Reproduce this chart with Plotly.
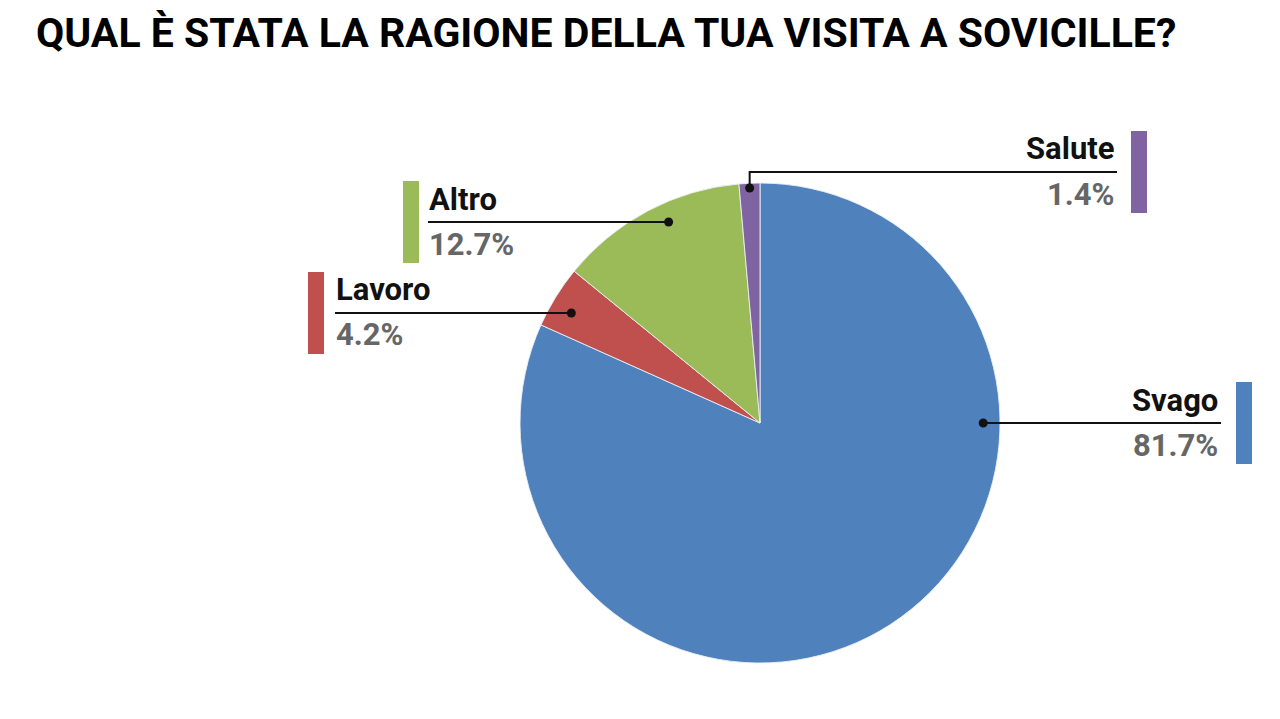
import math
import plotly.graph_objects as go

# ---- data ----
categories = ["Svago", "Lavoro", "Altro", "Salute"]
values = [81.7, 4.2, 12.7, 1.4]
colors = ["#4F81BD", "#C0504D", "#9BBB59", "#8064A2"]
title_text = "QUAL È STATA LA RAGIONE DELLA TUA VISITA A SOVICILLE?"

W, H = 1280, 719
OFF = 8  # page body margin
CX, CY, R = 760, 423, 240


def px(x):
    return (x - OFF) / W


def py(y):
    return 1 - (y - OFF) / H


fig = go.Figure()
fig.add_trace(go.Pie(
    labels=categories, values=values, sort=False, direction="clockwise", rotation=0,
    marker=dict(colors=colors, line=dict(color="rgba(235,240,245,0.9)", width=1)),
    textinfo="none", hoverinfo="label+percent", showlegend=False,
    domain=dict(x=[px(CX - R), px(CX + R)], y=[py(CY + R), py(CY - R)]),
))

# label layout: side, label line y, text end x, bar x0, dot radius fraction
layout_info = {
    "Svago": dict(side="right", ly=423, tx=1221, bx=1236, rf=0.93),
    "Lavoro": dict(side="left", ly=313, tx=335, bx=308, rf=0.91),
    "Altro": dict(side="left", ly=222, tx=428, bx=403, rf=0.92),
    "Salute": dict(side="right", ly=172, tx=1117, bx=1131, rf=0.98),
}

total = sum(values)
shapes = []
annotations = []
cum = 0.0
for cat, val, col in zip(categories, values, colors):
    info = layout_info[cat]
    start = cum / total * 2 * math.pi
    end = (cum + val) / total * 2 * math.pi
    cum += val
    mid = (start + end) / 2
    ly = info["ly"]
    rr = info["rf"] * R
    if val > 3:
        # dot where the horizontal label line crosses the slice
        dy = ly - CY
        dx = math.sqrt(rr ** 2 - dy ** 2) * (1 if math.sin(mid) > 0 else -1)
        dotx, doty = CX + dx, ly
    else:
        dotx = CX + rr * math.sin(mid)
        doty = CY - rr * math.cos(mid)
    if abs(doty - ly) < 1:
        pts = [(dotx, doty), (info["tx"], ly)]
    else:
        pts = [(dotx, doty), (dotx, ly), (info["tx"], ly)]
    path = "M " + " L ".join(f"{px(a)},{py(b)}" for a, b in pts)
    shapes.append(dict(type="path", path=path, xref="paper", yref="paper",
                       line=dict(color="#111111", width=2)))
    shapes.append(dict(type="circle", xref="paper", yref="paper",
                       xsizemode="pixel", ysizemode="pixel",
                       xanchor=px(dotx), yanchor=py(doty),
                       x0=-4.5, x1=4.5, y0=-4.5, y1=4.5,
                       fillcolor="#111111", line=dict(width=0)))
    shapes.append(dict(type="rect", xref="paper", yref="paper",
                       x0=px(info["bx"]), x1=px(info["bx"] + 16),
                       y0=py(ly + 41), y1=py(ly - 41),
                       fillcolor=col, line=dict(width=0)))
    anchor = "left" if info["side"] == "left" else "right"
    tx = info["tx"] - 1
    annotations.append(dict(text=f"<b>{cat}</b>", x=px(tx), y=py(ly - 23),
                            xref="paper", yref="paper", xanchor=anchor, yanchor="middle",
                            showarrow=False, font=dict(family="Roboto", size=31, color="#111111")))
    annotations.append(dict(text=f"<b>{val:.1f}%</b>", x=px(tx), y=py(ly + 22),
                            xref="paper", yref="paper", xanchor=anchor, yanchor="middle",
                            showarrow=False, font=dict(family="Roboto", size=31, color="#666666")))

annotations.append(dict(text=f"<b>{title_text}</b>", x=px(34), y=py(33), xref="paper", yref="paper",
                        xanchor="left", yanchor="middle", showarrow=False,
                        font=dict(family="Roboto", size=41, color="#000000")))

fig.update_layout(width=W, height=H, margin=dict(l=0, r=0, t=0, b=0),
                  paper_bgcolor="white", plot_bgcolor="white",
                  shapes=shapes, annotations=annotations)

fig.write_html("out.html")
